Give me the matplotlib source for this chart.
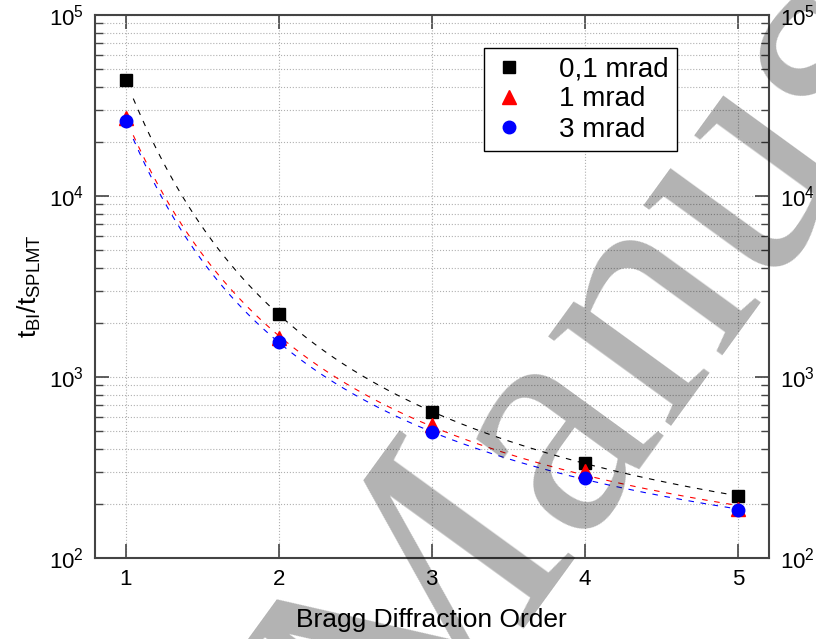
import numpy as np
import matplotlib
matplotlib.use('Agg')
import matplotlib.pyplot as plt
from matplotlib.ticker import LogLocator, LogFormatterMathtext, NullFormatter

plt.rcParams['font.family'] = ['Liberation Sans', 'DejaVu Sans']
plt.rcParams['mathtext.default'] = 'regular'

# values
orders = [1, 2, 3, 4, 5]
t_01mrad = [43800, 2220, 642, 335, 220]
t_1mrad = [27000, 1650, 546, 301, 186]
t_3mrad = [26000, 1553, 496, 275, 185]
labels = ['0,1 mrad', '1 mrad', '3 mrad']


def fit_curve(x, y, xs):
    # smooth trend: quadratic in 1/x on log scale
    p = np.polyfit(1.0 / np.array(x), np.log10(y), 2)
    return 10 ** np.polyval(p, 1.0 / xs)


W, H = 816, 639
fig = plt.figure(figsize=(W / 100, H / 100), dpi=100)
ax = fig.add_axes([95 / W, (H - 558) / H, (768.5 - 95) / W, (558 - 15) / H])

xs = np.linspace(1.05, 5.0, 200)
series = [(t_01mrad, 'k', 's', 8), (t_1mrad, 'red', '^', 9.5), (t_3mrad, 'blue', 'o', 9)]
for (vals, col, mk, ms), lab in zip(series, labels):
    ax.plot(xs, fit_curve(orders, vals, xs), color=col, lw=0.8,
            linestyle=(0, (5, 6)), zorder=2)
for (vals, col, mk, ms), lab in zip(series, labels):
    ax.plot(orders, vals, linestyle='none', marker=mk, color=col,
            markersize=ms, label=lab, zorder=3)

ax.set_yscale('log')
ax.set_xlim(0.8, 5.2)
ax.set_ylim(1e2, 1e5)
ax.set_xticks(orders)
ax.yaxis.set_major_locator(LogLocator(base=10, numticks=10))
ax.yaxis.set_major_formatter(LogFormatterMathtext())
ax.yaxis.set_minor_locator(LogLocator(base=10, subs=np.arange(2, 10), numticks=10))
ax.yaxis.set_minor_formatter(NullFormatter())

ax.grid(True, which='major', color='#b0b0b0', linestyle=':', lw=0.8)
ax.grid(True, which='minor', axis='y', color='#b0b0b0', linestyle=':', lw=0.8)
ax.set_axisbelow(True)

ax.tick_params(which='both', direction='in', top=True, right=True,
               labelright=True, labelsize=16, color='#444444')
ax.tick_params(which='major', length=10, width=1.2, pad=8)
ax.tick_params(which='minor', length=6, width=1.0)
for s in ax.spines.values():
    s.set_color('#444444')
    s.set_linewidth(1.5)

ax.set_xlabel('Bragg Diffraction Order', fontsize=19, labelpad=13)
ax.set_ylabel(r'$t_{BI}/t_{SPLMT}$', fontsize=19, labelpad=4)

leg = ax.legend(loc='upper left', bbox_to_anchor=((484 - 95) / (768.5 - 95), 1 - (48 - 15) / (558 - 15)),
                fontsize=20, frameon=True, fancybox=False, edgecolor='k',
                framealpha=1, handlelength=1.2, handletextpad=1.2,
                borderpad=0.3, labelspacing=0.15, borderaxespad=0)
leg.get_frame().set_linewidth(1.0)

# watermark
fig.text(405 / W, 1 - 780 / H, 'Manuscript', fontsize=238, family='Liberation Serif',
         color='k', alpha=0.3, rotation=54, rotation_mode='anchor',
         ha='left', va='baseline', zorder=10)

fig.savefig('out.png', dpi=100)
